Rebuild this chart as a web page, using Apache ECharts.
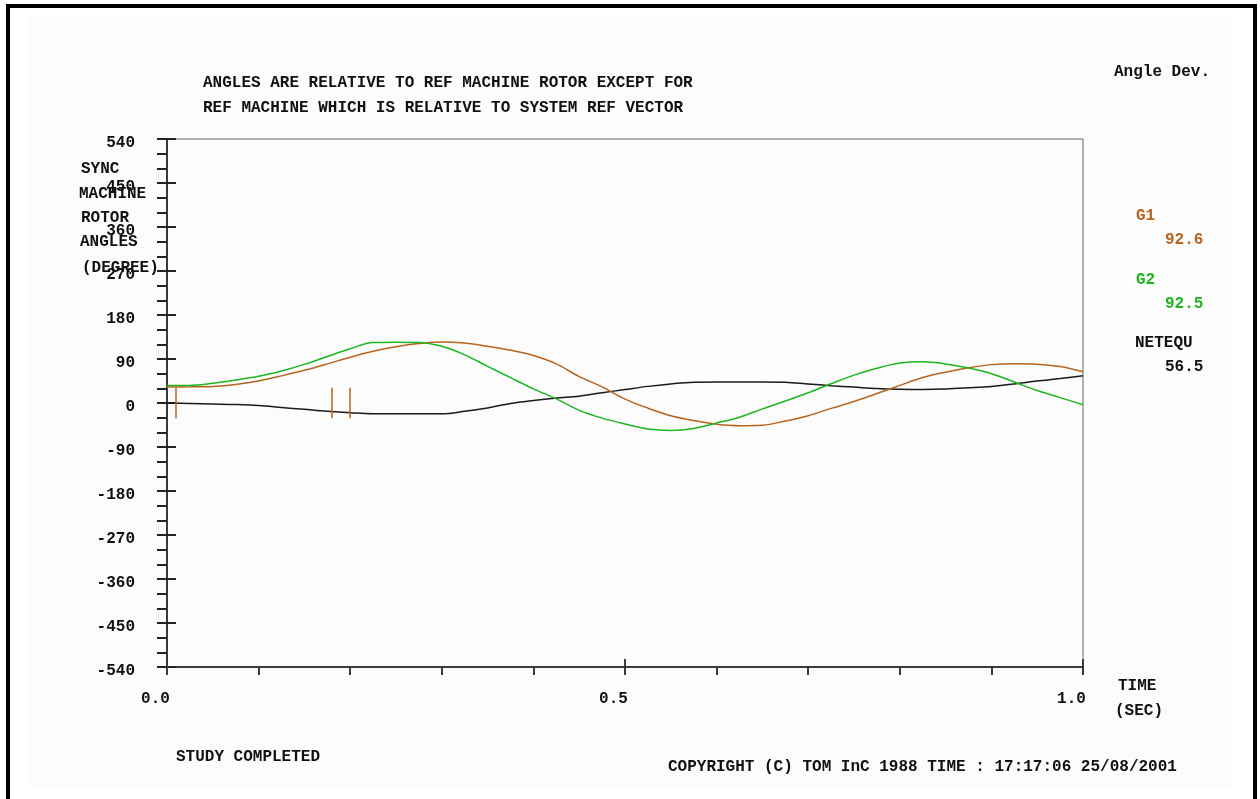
<!DOCTYPE html>
<html>
<head>
<meta charset="utf-8">
<title>Sync Machine Rotor Angles</title>
<script src="https://cdn.jsdelivr.net/npm/echarts@6/dist/echarts.min.js"></script>
<style>
  html, body { margin: 0; padding: 0; background: #ffffff; }
  #chart { width: 1260px; height: 799px; }
</style>
</head>
<body>
<div id="chart"></div>
<script>
// Simulation time (s)
const timeSec = [
  0.000, 0.025, 0.050, 0.075, 0.100, 0.125, 0.150, 0.175, 0.200, 0.225,
  0.250, 0.275, 0.300, 0.325, 0.350, 0.375, 0.400, 0.425, 0.450, 0.475,
  0.500, 0.525, 0.550, 0.575, 0.600, 0.625, 0.650, 0.675, 0.700, 0.725,
  0.750, 0.775, 0.800, 0.825, 0.850, 0.875, 0.900, 0.925, 0.950, 0.975, 1.000
];

// Rotor angles (degrees)
const g1Angle = [
  32.6, 33, 34, 38, 45, 55.5, 67, 80, 93.7, 106,
  115, 121.5, 125, 122.5, 116, 108, 97, 80, 54, 33,
  8, -10.5, -26, -36, -43.5, -46.5, -45.5, -37, -26, -11,
  3, 19.5, 36, 52, 63, 72, 78.5, 80.3, 79.5, 74.5, 64
];
const g2Angle = [
  36, 36, 40.5, 47, 54.5, 65.5, 79, 95, 110.8, 124,
  124.5, 124, 116, 98.5, 75, 52, 29, 8.5, -15, -31,
  -43, -53, -56, -52, -41, -29, -12, 4, 21, 39.5,
  57, 71, 81.7, 84.5, 80, 71.5, 60, 43, 25.5, 11, -3.5
];
const netequAngle = [
  0, -1, -2, -3, -5, -9, -13, -17, -20, -22,
  -22, -22, -22, -17, -10, -1, 5, 10, 14, 21,
  27.5, 34, 39, 42.5, 43, 43, 43, 42.5, 39, 35.5,
  32.5, 29.5, 28, 27.5, 28.5, 31, 34, 39, 45, 50, 55.6
];

// Switching events (s) and the half-height of their markers (degrees)
const eventTimes = [0.01, 0.18, 0.2];
const eventHalfHeight = 31;

// Right-hand readout
const readoutNames = ['G1', 'G2', 'NETEQU'];
const readoutValues = ['92.6', '92.5', '56.5'];

// Axis settings
const yMin = -540, yMax = 540, yStep = 90;
const xMin = 0, xMax = 1;

const brown = '#b8641e';
const green = '#1fb51f';
const dark = '#1a1a1a';
const FONT = '"Liberation Mono", "DejaVu Sans Mono", monospace';

function pairs(xs, ys) { return xs.map((x, i) => [x, ys[i]]); }

function label(text, x, y, color) {
  return {
    type: 'text', x: x, y: y, silent: true,
    style: {
      text: text, fill: color || '#111', fontFamily: FONT,
      fontSize: 16, fontWeight: 'bold',
      textAlign: 'left', textVerticalAlign: 'middle'
    }
  };
}

const chart = echarts.init(document.getElementById('chart'), null, { renderer: 'canvas' });

const option = {
  backgroundColor: '#ffffff',
  animation: false,
  grid: {
    left: 167, right: 177, top: 139, bottom: 132,
    show: true, borderColor: '#666', borderWidth: 1, backgroundColor: 'transparent'
  },
  xAxis: [
    {
      type: 'value', min: xMin, max: xMax, interval: 0.1, position: 'bottom',
      axisLine: { show: true, onZero: false, lineStyle: { color: '#3a3a3a', width: 2 } },
      axisTick: { show: true, length: 8, lineStyle: { color: '#3a3a3a', width: 2 } },
      axisLabel: { show: false },
      splitLine: { show: false }
    },
    {
      type: 'value', min: xMin, max: xMax, interval: 0.5, position: 'bottom',
      axisLine: { show: false, onZero: false },
      axisTick: { show: true, inside: true, length: 8, lineStyle: { color: '#3a3a3a', width: 2 } },
      axisLabel: {
        show: true, margin: 24, color: '#111', fontFamily: FONT, fontSize: 16, fontWeight: 'bold',
        align: 'center', padding: [0, 23, 0, 0],
        formatter: v => v.toFixed(1)
      },
      splitLine: { show: false }
    }
  ],
  yAxis: [
    {
      type: 'value', min: yMin, max: yMax, interval: yStep, position: 'left',
      axisLine: { show: true, onZero: false, lineStyle: { color: '#3a3a3a', width: 2 } },
      axisTick: { show: true, length: 10, lineStyle: { color: '#222', width: 2 } },
      minorTick: { show: true, splitNumber: 3, length: 10, lineStyle: { color: '#222', width: 2 } },
      axisLabel: {
        show: true, margin: 32, color: '#111', fontFamily: FONT, fontSize: 16, fontWeight: 'bold',
        verticalAlign: 'top', lineHeight: 7
      },
      splitLine: { show: false }
    },
    {
      type: 'value', min: yMin, max: yMax, interval: yStep, position: 'left',
      axisLine: { show: false, onZero: false },
      axisTick: { show: true, inside: true, length: 9, lineStyle: { color: '#222', width: 2 } },
      axisLabel: { show: false },
      splitLine: { show: false }
    }
  ],
  series: [
    {
      name: 'NETEQU', type: 'line', xAxisIndex: 0, yAxisIndex: 0,
      data: pairs(timeSec, netequAngle), showSymbol: false, smooth: 0.35,
      lineStyle: { color: dark, width: 1.5 }, z: 3
    },
    {
      name: 'G1', type: 'line', xAxisIndex: 0, yAxisIndex: 0,
      data: pairs(timeSec, g1Angle), showSymbol: false, smooth: 0.35,
      lineStyle: { color: brown, width: 1.5 }, z: 4,
      markLine: {
        silent: true, symbol: 'none', animation: false,
        label: { show: false },
        lineStyle: { color: brown, width: 1.5, type: 'solid' },
        data: eventTimes.map(t => [
          { coord: [t, eventHalfHeight] },
          { coord: [t, -eventHalfHeight] }
        ])
      }
    },
    {
      name: 'G2', type: 'line', xAxisIndex: 0, yAxisIndex: 0,
      data: pairs(timeSec, g2Angle), showSymbol: false, smooth: 0.35,
      lineStyle: { color: green, width: 1.5 }, z: 5
    }
  ],
  graphic: [
    // light panel and black frame
    { type: 'rect', z: -10, silent: true, shape: { x: 29, y: 17, width: 1204, height: 771 },
      style: { fill: '#fcfcfc' } },
    { type: 'rect', z: 100, silent: true, shape: { x: 8, y: 6, width: 1247, height: 900 },
      style: { fill: 'none', stroke: '#000', lineWidth: 4 } },

    label('ANGLES ARE RELATIVE TO REF MACHINE ROTOR EXCEPT FOR', 203, 83),
    label('REF MACHINE WHICH IS RELATIVE TO SYSTEM REF VECTOR', 203, 108),
    label('Angle Dev.', 1114, 72),

    label('SYNC', 81, 169),
    label('MACHINE', 79, 194),
    label('ROTOR', 81, 218),
    label('ANGLES', 80, 242),
    label('(DEGREE)', 82, 268),

    label(readoutNames[0], 1136, 216, brown),
    label(readoutValues[0], 1165, 240, brown),
    label(readoutNames[1], 1136, 280, green),
    label(readoutValues[1], 1165, 304, green),
    label(readoutNames[2], 1135, 343, '#111'),
    label(readoutValues[2], 1165, 367, '#111'),

    label('TIME', 1118, 686),
    label('(SEC)', 1115, 711),

    label('STUDY COMPLETED', 176, 757),
    label('COPYRIGHT (C) TOM InC 1988 TIME : 17:17:06 25/08/2001', 668, 767)
  ]
};

chart.setOption(option);
</script>
</body>
</html>
